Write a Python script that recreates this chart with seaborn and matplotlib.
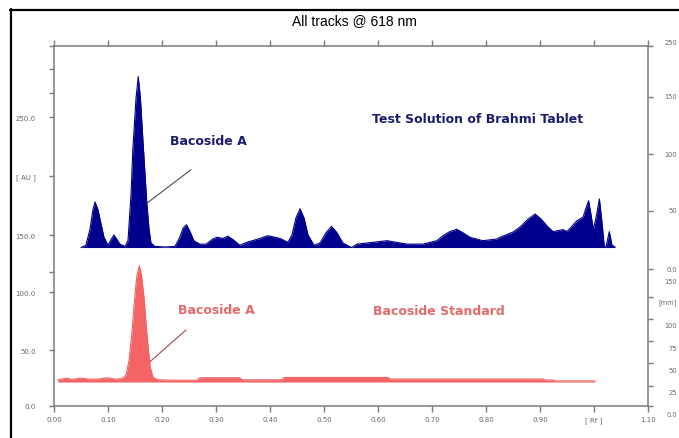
import numpy as np
import pandas as pd
import matplotlib
matplotlib.use("Agg")
import matplotlib.pyplot as plt
import seaborn as sns

# ---------------- data ----------------
title = "All tracks @ 618 nm"

test_rf = [0.050, 0.059, 0.0667, 0.072, 0.0759, 0.0815, 0.087, 0.0926, 0.100, 0.1056,
           0.111, 0.1167, 0.122, 0.1315, 0.137, 0.1426, 0.146, 0.1519, 0.156, 0.160,
           0.1648, 0.1717, 0.176, 0.1796, 0.187, 0.2056, 0.224, 0.233, 0.239, 0.2454,
           0.2519, 0.259, 0.270, 0.2815, 0.294, 0.3019, 0.313, 0.322, 0.3315, 0.344,
           0.357, 0.3815, 0.396, 0.4185, 0.433, 0.4407, 0.448, 0.4556, 0.463, 0.4704,
           0.4815, 0.4926, 0.5037, 0.514, 0.524, 0.535, 0.551, 0.561, 0.591, 0.6167,
           0.654, 0.683, 0.709, 0.7204, 0.733, 0.7457, 0.7574, 0.7704, 0.794, 0.820,
           0.826, 0.850, 0.863, 0.878, 0.891, 0.902, 0.913, 0.924, 0.9426, 0.950,
           0.9685, 0.980, 0.984, 0.990, 0.9944, 0.9987, 1.0037, 1.010, 1.015, 1.019,
           1.0222, 1.0283, 1.0333, 1.039]
test_au = [139, 141, 155, 172, 179, 172, 160, 148, 141, 146,
           150, 146, 142, 140, 145, 185, 225, 270, 289, 270,
           232, 179, 155, 143, 140, 139.5, 140, 148, 156, 159,
           153, 145, 142, 142, 146.5, 148, 147, 149, 146, 141,
           143.6, 147, 149.4, 147, 143.6, 150, 165, 173, 165, 150,
           141, 143, 152, 157.6, 152, 143, 139, 142, 143.6, 145,
           142, 142, 145, 149.4, 153, 155, 152, 148, 145, 146.5,
           148, 152.6, 157, 164, 168.4, 164, 158, 153, 154.7, 153,
           162.5, 165.8, 172, 180, 168, 155, 165, 181.6, 160, 140,
           139.5, 153, 141, 139.5]
test_base = 139

std_rf = [0.007, 0.024, 0.033, 0.048, 0.0667, 0.085, 0.098, 0.113, 0.126, 0.1333,
          0.139, 0.1444, 0.150, 0.1537, 0.158, 0.162, 0.1667, 0.1722, 0.1778, 0.1833,
          0.193, 0.224, 0.265, 0.270, 0.344, 0.348, 0.422, 0.426, 0.5167, 0.6185,
          0.622, 0.9056, 0.909, 0.924, 0.9278, 1.002]
std_au = [23, 24.5, 23.2, 24.5, 23.5, 23.8, 24.8, 23.6, 24, 27,
          40, 65, 98, 115, 123, 115, 95, 62, 35, 25,
          23, 22.6, 22.6, 24.8, 24.8, 23, 23, 25, 25, 25,
          23.7, 23.7, 22.8, 22.8, 22, 22]
std_base = 21

x_ticks = [0.0, 0.1, 0.2, 0.3, 0.4, 0.5, 0.6, 0.7, 0.8, 0.9, 1.0, 1.1]
x_ticklabels = ["0.00", "0.10", "0.20", "0.30", "0.40", "0.50", "0.60",
                "0.70", "0.80", "0.90", "[ Rf ]", "1.10"]
y_ticks = [0, 49.1, 100, 150, 201.8, 253.5]
y_ticklabels = ["0.0", "50.0", "100.0", "150.0", "[ AU ]", "250.0"]
y_minor = [117.5, 274.6, 295.6, 315.8]
right_ticks = [315.8, 271, 221, 171, 120, 95.6, 76.3, 57, 37.7, 17.5, 0]
right_upper_labels = ["250", "150", "100", "50", "0.0"]
right_upper_ypx = [43, 97, 155, 211, 270]
right_lower_labels = ["150", "[mm]", "100", "75", "50", "25", "0.0"]
right_lower_ypx = [282, 303, 326, 349, 371, 393, 415]

# ---------------- figure ----------------
sns.set_theme(style="white")
plt.rcParams["font.family"] = ["DejaVu Sans"]

W, H = 679, 439
fig = plt.figure(figsize=(W / 100, H / 100), dpi=100)
fig.patch.set_facecolor("white")
ax = fig.add_axes([54 / W, 1 - 407 / H, (648 - 54) / W, (407 - 47) / H])
ax.set_facecolor("white")

blue = "#00008c"
red = "#f46464"

test_df = pd.DataFrame({"Rf": test_rf, "AU": test_au})
std_df = pd.DataFrame({"Rf": std_rf, "AU": std_au})

ax.fill_between(test_df["Rf"], test_base, test_df["AU"], color=blue, lw=0)
sns.lineplot(data=test_df, x="Rf", y="AU", ax=ax, color=blue, lw=0.8, sort=False)
ax.fill_between(std_df["Rf"], std_base, std_df["AU"], color=red, lw=0)
sns.lineplot(data=std_df, x="Rf", y="AU", ax=ax, color=red, lw=0.8, sort=False)

ax.set_xlim(0, 1.1)
ax.set_ylim(0, 315.8)
ax.set_xlabel("")
ax.set_ylabel("")

gray = "#7a7a7a"
for side in ["left", "right", "top", "bottom"]:
    ax.spines[side].set_visible(True)
    ax.spines[side].set_color(gray)
    ax.spines[side].set_linewidth(1.1)

ax.set_xticks(x_ticks)
ax.set_xticklabels(x_ticklabels)
ax.set_yticks(y_ticks)
ax.set_yticklabels(y_ticklabels)
ax.set_yticks(y_minor, minor=True)
ax.tick_params(axis="x", which="major", direction="out", length=4.3, width=1.0,
               color=gray, labelsize=5, labelcolor="#666666", pad=3,
               top=True, bottom=True)
ax.tick_params(axis="y", which="both", direction="out", length=3.6, width=1.0,
               color=gray, labelsize=5, labelcolor="#666666", pad=9.5, left=True)
ax.grid(False)

ax2 = ax.twinx()
ax2.set_ylim(0, 315.8)
ax2.set_yticks(right_ticks)
ax2.set_yticklabels([])
ax2.tick_params(axis="y", direction="out", length=3.6, width=1.0, color=gray, right=True)
for side in ["left", "right", "top", "bottom"]:
    ax2.spines[side].set_visible(False)
ax2.grid(False)

for lab, ypx in zip(right_upper_labels, right_upper_ypx):
    fig.text(677 / W, 1 - ypx / H, lab, fontsize=4.8, color="#666666", ha="right", va="center")
for lab, ypx in zip(right_lower_labels, right_lower_ypx):
    fig.text(677 / W, 1 - ypx / H, lab, fontsize=4.8, color="#666666", ha="right", va="center")

# annotations
navy_txt = "#1b1b6e"
red_txt = "#e36b6b"
ax.text(0.285, 233.3, "Bacoside A", color=navy_txt, fontsize=9, fontweight="bold",
        ha="center", va="center")
ax.text(0.785, 251.8, "Test Solution of Brahmi Tablet", color=navy_txt, fontsize=9,
        fontweight="bold", ha="center", va="center")
ax.text(0.300, 85.0, "Bacoside A", color=red_txt, fontsize=9, fontweight="bold",
        ha="center", va="center")
ax.text(0.713, 84.2, "Bacoside Standard", color=red_txt, fontsize=9, fontweight="bold",
        ha="center", va="center")
ax.plot([0.1717, 0.2537], [177.8, 207.3], color="#4a4a5a", lw=0.8)
ax.plot([0.1765, 0.2444], [38.3, 66.7], color="#a04848", lw=0.8)

# title and outer frame
fig.text(354 / W, 1 - 21 / H, title, fontsize=10, family="Liberation Sans",
         color="black", ha="center", va="center")
fig.add_artist(plt.Line2D([10 / W, 1.0], [1 - 10.5 / H, 1 - 10.5 / H],
                          transform=fig.transFigure, color="black", lw=1.6))
fig.add_artist(plt.Line2D([10.5 / W, 10.5 / W], [0, 1 - 10 / H],
                          transform=fig.transFigure, color="black", lw=1.6))

fig.savefig("out.png", dpi=100, facecolor="white")
